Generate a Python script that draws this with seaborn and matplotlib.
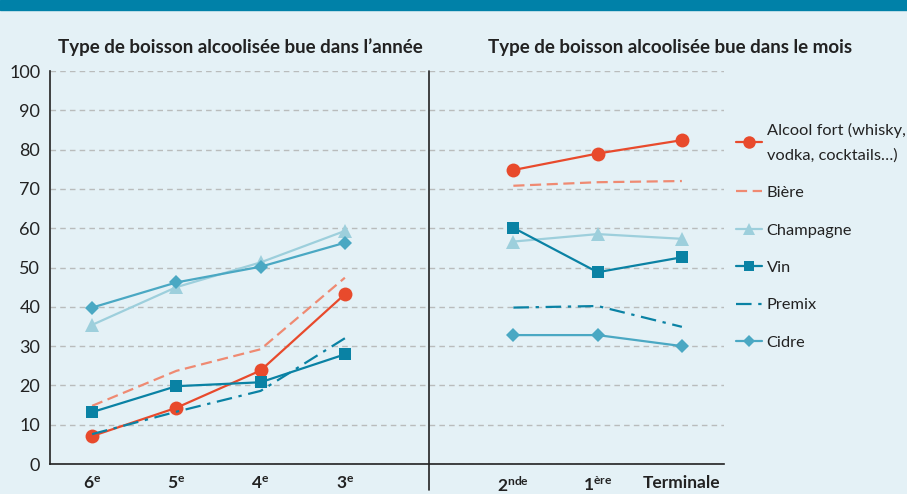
import pandas as pd
import matplotlib.pyplot as plt
import matplotlib.patches as mpatches
from matplotlib.lines import Line2D
import seaborn as sns

# categories (left: collège, year ; right: lycée, month)
left_levels = ["6$^{e}$", "5$^{e}$", "4$^{e}$", "3$^{e}$"]
right_levels = ["2$^{nde}$", "1$^{ère}$", "Terminale"]

# % of pupils
alcool_year = [7.1, 14.3, 23.8, 43.2]
biere_year = [14.8, 23.7, 29.2, 47.4]
champ_year = [35.4, 45.0, 51.3, 59.3]
vin_year = [13.2, 19.8, 20.8, 27.9]
premix_year = [7.6, 13.3, 18.6, 32.0]
cidre_year = [39.8, 46.2, 50.2, 56.3]

alcool_month = [74.8, 79.0, 82.4]
biere_month = [70.8, 71.7, 72.0]
champ_month = [56.6, 58.5, 57.3]
vin_month = [60.1, 48.8, 52.6]
premix_month = [39.8, 40.2, 34.9]
cidre_month = [32.8, 32.8, 30.0]

series = ["Alcool fort (whisky,\nvodka, cocktails…)", "Bière", "Champagne", "Vin", "Premix", "Cidre"]
year_vals = [alcool_year, biere_year, champ_year, vin_year, premix_year, cidre_year]
month_vals = [alcool_month, biere_month, champ_month, vin_month, premix_month, cidre_month]

styles = [
    dict(color="#e84a2c", linestyle="-", marker="o", markersize=10),
    dict(color="#ef8a72", linestyle=(0, (5, 2.5)), marker=None, markersize=0),
    dict(color="#9dcfdc", linestyle="-", marker="^", markersize=10),
    dict(color="#0a82a4", linestyle="-", marker="s", markersize=8),
    dict(color="#0a82a4", linestyle=(0, (7, 3, 1.5, 3)), marker=None, markersize=0),
    dict(color="#4aa8c3", linestyle="-", marker="D", markersize=7),
]

# slot positions: 4 left levels, one empty slot, 3 right levels
all_levels = left_levels + [""] + right_levels
left_pos = [all_levels.index(l) for l in left_levels]
right_pos = [all_levels.index(l) for l in right_levels]

rows = []
for name, yv, mv in zip(series, year_vals, month_vals):
    for p, v in zip(left_pos, yv):
        rows.append({"boisson": name, "panel": "annee", "pos": p, "pct": v})
    for p, v in zip(right_pos, mv):
        rows.append({"boisson": name, "panel": "mois", "pos": p, "pct": v})
df = pd.DataFrame(rows)

sns.set_style("white")
plt.rcParams["font.family"] = ["Lato", "DejaVu Sans"]
plt.rcParams["mathtext.default"] = "regular"

bg = "#e4f1f6"
fig = plt.figure(figsize=(9.07, 4.94), dpi=100, facecolor=bg)
ax = fig.add_axes([50 / 907, 1 - 464 / 494, 674 / 907, 393 / 494], facecolor=bg)

for name, st in zip(series, styles):
    for panel in ["annee", "mois"]:
        sub = df[(df.boisson == name) & (df.panel == panel)]
        sns.lineplot(data=sub, x="pos", y="pct", ax=ax, color=st["color"],
                     linestyle=st["linestyle"], marker=st["marker"],
                     markersize=st["markersize"], markeredgewidth=0,
                     linewidth=1.6, legend=False, zorder=3)

ax.set_xlim(-0.5, len(all_levels) - 0.5)
ax.set_ylim(0, 100)
ax.set_yticks(range(0, 101, 10))
ax.set_xticks(range(len(all_levels)))
ax.set_xticklabels(all_levels, fontweight="bold", fontsize=12.5, color="#222222")
ax.set_xticks([i - 0.5 for i in range(len(all_levels) + 1)], minor=True)
ax.tick_params(axis="x", which="major", length=0, pad=8)
ax.tick_params(axis="x", which="minor", length=5, width=1, color="#222222", direction="out")
ax.tick_params(axis="y", length=5, width=1, color="#222222", labelsize=13, labelcolor="#222222", pad=2)
ax.set_xlabel("")
ax.set_ylabel("")
ax.grid(axis="y", linestyle=(0, (4, 3)), color="#b9bcbc", linewidth=1)
ax.set_axisbelow(True)
for s in ["top", "right"]:
    ax.spines[s].set_visible(False)
for s in ["left", "bottom"]:
    ax.spines[s].set_color("#222222")
    ax.spines[s].set_linewidth(1.2)

# divider between the two panels
ax.axvline(4, ymin=-0.066, ymax=1, color="#222222", linewidth=1.2, clip_on=False)

# top band
fig.patches.append(mpatches.Rectangle((0, 1 - 10 / 494), 1, 10 / 494, transform=fig.transFigure,
                                      color="#0081a8", zorder=0))

fig.text(240 / 907, 1 - 47 / 494, "Type de boisson alcoolisée bue dans l’année",
         ha="center", va="center", fontsize=13.5, fontweight="bold", color="#222222")
fig.text(670 / 907, 1 - 47 / 494, "Type de boisson alcoolisée bue dans le mois",
         ha="center", va="center", fontsize=13.5, fontweight="bold", color="#222222")

handles = [Line2D([], [], color=st["color"], linestyle=st["linestyle"], marker=st["marker"],
                  markersize=st["markersize"] * 0.9, markeredgewidth=0, linewidth=1.6)
           for st in styles]
leg = fig.legend(handles, series, loc="upper left", bbox_to_anchor=(729 / 907, 1 - 116 / 494),
                 frameon=False, fontsize=11.8, handlelength=1.6, handletextpad=0.3,
                 labelspacing=1.4, borderaxespad=0)
for t in leg.get_texts():
    t.set_color("#222222")
    t.set_linespacing(1.95)

plt.savefig("out.png", dpi=100, facecolor=bg)
